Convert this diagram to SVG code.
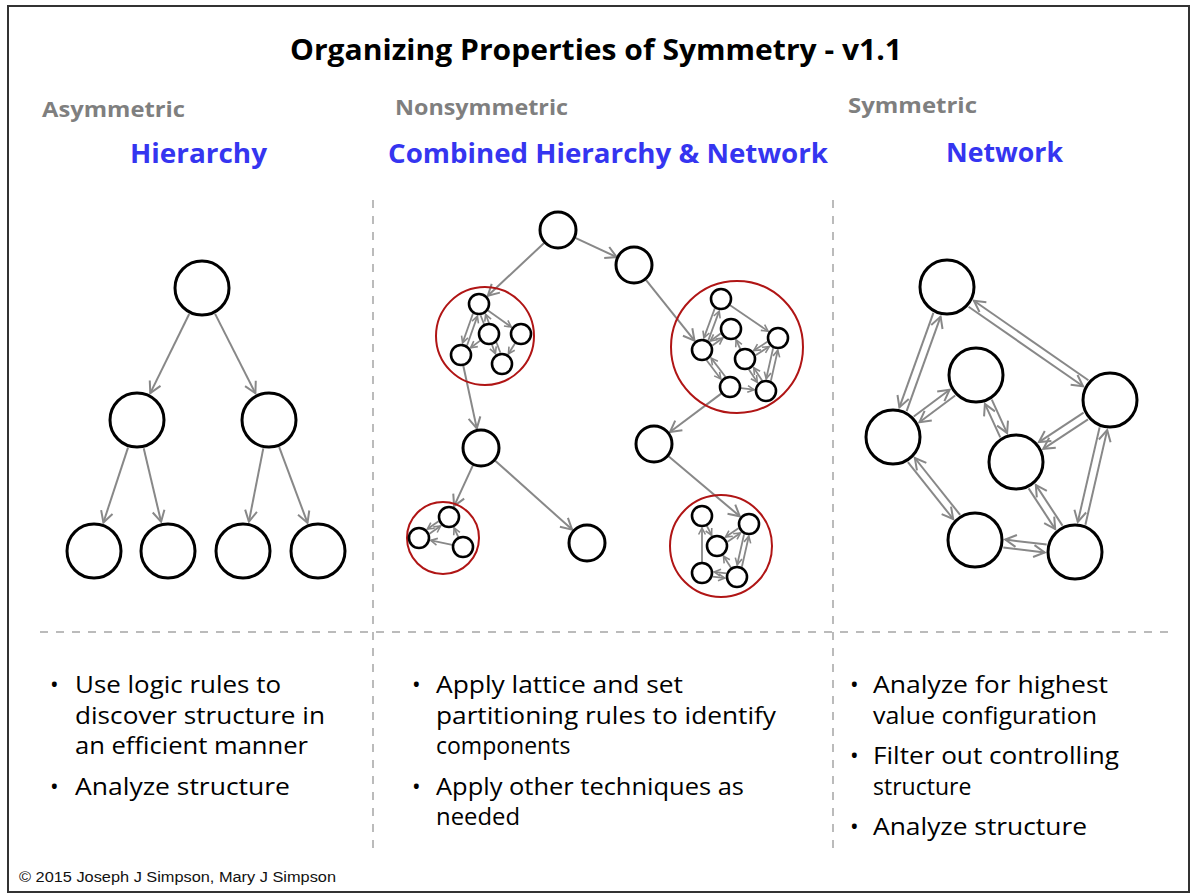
<svg xmlns="http://www.w3.org/2000/svg" width="1200" height="896" viewBox="0 0 1200 896">
<style>
.t{font-family:"Comic Sans MS","Open Sans",sans-serif;}
.title{font-size:28px;font-weight:bold;fill:#000;}
.sub{font-size:22px;font-weight:bold;fill:#7f7f7f;}
.head{font-size:26px;font-weight:bold;fill:#3535f0;}
.body{font-size:23px;fill:#000;}
.bn{fill:#fff;stroke:#000;stroke-width:3;}
.sn{fill:#fff;stroke:#000;stroke-width:2.6;}
.red{fill:none;stroke:#b01515;stroke-width:2;}
.e{stroke:#888;stroke-width:2;fill:none;marker-end:url(#ab);}
.s{stroke:#888;stroke-width:1.8;fill:none;marker-end:url(#as);}
.dash{stroke:#bbb;stroke-width:2;stroke-dasharray:8 8;fill:none;}
</style>
<defs>
<marker id="ab" viewBox="0 0 14 14" refX="13" refY="7" markerWidth="14" markerHeight="14" markerUnits="userSpaceOnUse" orient="auto" overflow="visible"><path d="M2,1 L13,7 L2,13" fill="none" stroke="#888" stroke-width="2"/></marker>
<marker id="as" viewBox="0 0 8 8" refX="7.5" refY="4" markerWidth="8" markerHeight="8" markerUnits="userSpaceOnUse" orient="auto" overflow="visible"><path d="M1,0.6 L7.5,4 L1,7.4" fill="none" stroke="#888" stroke-width="1.6"/></marker>
</defs>
<rect x="0" y="0" width="1200" height="896" fill="#fff"/>
<rect x="8" y="6" width="1181" height="886" fill="none" stroke="#333" stroke-width="2"/>
<g id="dividers">
<line class="dash" x1="373" y1="200" x2="373" y2="848"/>
<line class="dash" x1="833" y1="200" x2="833" y2="848"/>
<line class="dash" x1="40" y1="632" x2="1168" y2="632"/>
</g>
<g id="texts">
<text class="t title" x="596" y="60" text-anchor="middle" textLength="612" lengthAdjust="spacingAndGlyphs">Organizing Properties of Symmetry - v1.1</text>
<text class="t sub" x="42" y="117" textLength="143" lengthAdjust="spacingAndGlyphs">Asymmetric</text>
<text class="t sub" x="395" y="115" textLength="173" lengthAdjust="spacingAndGlyphs">Nonsymmetric</text>
<text class="t sub" x="848" y="113" textLength="129" lengthAdjust="spacingAndGlyphs">Symmetric</text>
<text class="t head" x="130" y="163" textLength="137" lengthAdjust="spacingAndGlyphs">Hierarchy</text>
<text class="t head" x="388" y="163" textLength="440" lengthAdjust="spacingAndGlyphs">Combined Hierarchy &amp; Network</text>
<text class="t head" x="946" y="162" textLength="117" lengthAdjust="spacingAndGlyphs">Network</text>
<g class="t body">
<text x="50" y="693">•</text>
<text x="75" y="693" textLength="206" lengthAdjust="spacingAndGlyphs">Use logic rules to</text>
<text x="75" y="724" textLength="250" lengthAdjust="spacingAndGlyphs">discover structure in</text>
<text x="75" y="754" textLength="233" lengthAdjust="spacingAndGlyphs">an efficient manner</text>
<text x="50" y="795">•</text>
<text x="75" y="795" textLength="215" lengthAdjust="spacingAndGlyphs">Analyze structure</text>
<text x="412" y="693">•</text>
<text x="436" y="693" textLength="247" lengthAdjust="spacingAndGlyphs">Apply lattice and set</text>
<text x="436" y="724" textLength="340" lengthAdjust="spacingAndGlyphs">partitioning rules to identify</text>
<text x="436" y="754">components</text>
<text x="412" y="795">•</text>
<text x="436" y="795" textLength="308" lengthAdjust="spacingAndGlyphs">Apply other techniques as</text>
<text x="436" y="825" textLength="84" lengthAdjust="spacingAndGlyphs">needed</text>
<text x="850" y="693">•</text>
<text x="873" y="693" textLength="235" lengthAdjust="spacingAndGlyphs">Analyze for highest</text>
<text x="873" y="724" textLength="224" lengthAdjust="spacingAndGlyphs">value configuration</text>
<text x="850" y="764">•</text>
<text x="873" y="764" textLength="246" lengthAdjust="spacingAndGlyphs">Filter out controlling</text>
<text x="873" y="795">structure</text>
<text x="850" y="835">•</text>
<text x="873" y="835" textLength="214" lengthAdjust="spacingAndGlyphs">Analyze structure</text>
</g>
<text x="19" y="882" font-family="Liberation Sans, Arial, sans-serif" font-size="15.5" fill="#111" textLength="317" lengthAdjust="spacingAndGlyphs">© 2015 Joseph J Simpson, Mary J Simpson</text>
</g>
<g id="connectors">
<!-- hierarchy -->
<line class="e" x1="189.2" y1="314" x2="150.3" y2="393.1"/>
<line class="e" x1="215.1" y1="313.9" x2="255.4" y2="393.2"/>
<line class="e" x1="128" y1="447.6" x2="103.4" y2="522.5"/>
<line class="e" x1="143.7" y1="448.2" x2="161.1" y2="521.8"/>
<line class="e" x1="263.3" y1="448.4" x2="248.9" y2="521.6"/>
<line class="e" x1="279.2" y1="447.1" x2="307.5" y2="522.9"/>
<!-- combined -->
<line class="e" x1="575.3" y1="237.9" x2="616.7" y2="257.1"/>
<line class="e" x1="544.1" y1="243" x2="487.8" y2="295.8"/>
<line class="e" x1="645.9" y1="279.8" x2="694.5" y2="340.6"/>
<line class="e" x1="463.3" y1="365.8" x2="476.8" y2="428.4"/>
<line class="e" x1="721.2" y1="393.6" x2="670" y2="432"/>
<line class="e" x1="473" y1="465.2" x2="454.1" y2="506.1"/>
<line class="e" x1="495.2" y1="460.7" x2="572.1" y2="529.6"/>
<line class="e" x1="668.5" y1="456.2" x2="739.8" y2="516.3"/>
<!-- left cluster -->
<line class="s" x1="473" y1="313.5" x2="462.6" y2="342.9"/>
<line class="s" x1="467" y1="345.5" x2="477.4" y2="316.1"/>
<line class="s" x1="488" y1="310.4" x2="511.2" y2="327"/>
<line class="s" x1="480.6" y1="315.2" x2="495.4" y2="353.7"/>
<line class="s" x1="500.4" y1="352.8" x2="485.6" y2="314.3"/>
<line class="s" x1="480.2" y1="340.6" x2="470.6" y2="347.8"/>
<line class="s" x1="515.1" y1="343.3" x2="508.4" y2="353.9"/>
<!-- right cluster -->
<line class="s" x1="714.8" y1="308.4" x2="703.9" y2="337.9"/>
<line class="s" x1="708.2" y1="340.6" x2="719.2" y2="311.1"/>
<line class="s" x1="730.1" y1="305.2" x2="768.1" y2="331.2"/>
<line class="s" x1="720.6" y1="333.4" x2="710.3" y2="340.9"/>
<line class="s" x1="712.4" y1="345.6" x2="722.8" y2="338.1"/>
<line class="s" x1="706.6" y1="360.3" x2="720.8" y2="379"/>
<line class="s" x1="725.4" y1="376.7" x2="711.2" y2="358.1"/>
<line class="s" x1="740.9" y1="388.2" x2="754.1" y2="389.7"/>
<line class="s" x1="755.6" y1="355.2" x2="769.2" y2="346.6"/>
<line class="s" x1="767.4" y1="341.8" x2="753.8" y2="350.5"/>
<line class="s" x1="740.3" y1="349" x2="736.1" y2="339.9"/>
<line class="s" x1="748.9" y1="369.6" x2="757.3" y2="382.3"/>
<line class="s" x1="762.1" y1="380.4" x2="753.7" y2="367.7"/>
<line class="s" x1="773.1" y1="348.2" x2="766.2" y2="378.7"/>
<line class="s" x1="770.9" y1="380.8" x2="777.8" y2="350.3"/>
<!-- bottom-left cluster -->
<line class="s" x1="438.6" y1="521.3" x2="427.4" y2="529.1"/>
<line class="s" x1="429.5" y1="533.7" x2="440.6" y2="526"/>
<line class="s" x1="452.2" y1="544.8" x2="430.8" y2="540.4"/>
<line class="s" x1="458.3" y1="537" x2="454.1" y2="527.9"/>
<!-- bottom-right cluster -->
<line class="s" x1="702" y1="562" x2="702" y2="528"/>
<line class="s" x1="706.9" y1="525.8" x2="711.6" y2="535.3"/>
<line class="s" x1="727.5" y1="541.8" x2="740.5" y2="532.9"/>
<line class="s" x1="738.5" y1="528.2" x2="725.5" y2="537.1"/>
<line class="s" x1="744.1" y1="534.2" x2="737.2" y2="564.7"/>
<line class="s" x1="741.9" y1="566.8" x2="748.8" y2="536.3"/>
<line class="s" x1="731" y1="567.8" x2="723.5" y2="556.1"/>
<line class="s" x1="712.7" y1="576.7" x2="724.8" y2="578.1"/>
<line class="s" x1="726.4" y1="573.3" x2="714.2" y2="571.9"/>
<!-- network -->
<line class="e" x1="933.4" y1="312.9" x2="899.4" y2="407.4"/>
<line class="e" x1="906.6" y1="411.1" x2="940.6" y2="316.6"/>
<line class="e" x1="968.6" y1="306.8" x2="1083.1" y2="386.2"/>
<line class="e" x1="1088.4" y1="380.2" x2="973.9" y2="300.8"/>
<line class="e" x1="955.2" y1="395.5" x2="919.4" y2="422.3"/>
<line class="e" x1="913.8" y1="416.5" x2="949.6" y2="389.7"/>
<line class="e" x1="991.8" y1="399.7" x2="1007.1" y2="433.1"/>
<line class="e" x1="1000.3" y1="437.3" x2="984.9" y2="403.9"/>
<line class="e" x1="1083.6" y1="412.6" x2="1038.9" y2="442.1"/>
<line class="e" x1="1088" y1="419.3" x2="1043.3" y2="448.8"/>
<line class="e" x1="1099.6" y1="427.4" x2="1077.8" y2="521.9"/>
<line class="e" x1="1085.4" y1="524.7" x2="1107.2" y2="430.1"/>
<line class="e" x1="907.9" y1="462.2" x2="953.2" y2="519"/>
<line class="e" x1="960.1" y1="514.8" x2="914.8" y2="458"/>
<line class="e" x1="1028.6" y1="488.4" x2="1055.2" y2="529.1"/>
<line class="e" x1="1062.5" y1="525.6" x2="1035.8" y2="484.9"/>
<line class="e" x1="1003.3" y1="547.4" x2="1044.7" y2="552.4"/>
<line class="e" x1="1046.7" y1="544.6" x2="1005.3" y2="539.6"/>
</g>
<g id="hierarchy-nodes">
<g id="h-root"><circle class="bn" cx="202" cy="288" r="27"/></g>
<g id="h-l2a"><circle class="bn" cx="137" cy="420" r="27"/></g>
<g id="h-l2b"><circle class="bn" cx="269" cy="420" r="27"/></g>
<g id="h-l3a"><circle class="bn" cx="94" cy="551" r="27"/></g>
<g id="h-l3b"><circle class="bn" cx="168" cy="551" r="27"/></g>
<g id="h-l3c"><circle class="bn" cx="243" cy="551" r="27"/></g>
<g id="h-l3d"><circle class="bn" cx="318" cy="551" r="27"/></g>
</g>
<g id="combined-nodes">
<g id="c-root"><circle class="bn" cx="558" cy="230" r="18"/></g>
<g id="c-n2"><circle class="bn" cx="634" cy="265" r="18"/></g>
<g id="c-m1"><circle class="bn" cx="481" cy="448" r="18"/></g>
<g id="c-m2"><circle class="bn" cx="654" cy="444" r="18"/></g>
<g id="c-p"><circle class="bn" cx="587" cy="543" r="18"/></g>
<g id="cluster-left">
<circle class="red" cx="485" cy="336" r="49"/>
<circle class="sn" cx="479" cy="304" r="10"/>
<circle class="sn" cx="489" cy="334" r="10"/>
<circle class="sn" cx="521" cy="334" r="10"/>
<circle class="sn" cx="461" cy="355" r="10"/>
<circle class="sn" cx="502" cy="364" r="10"/>
</g>
<g id="cluster-right">
<circle class="red" cx="737" cy="347" r="66"/>
<circle class="sn" cx="721" cy="299" r="10"/>
<circle class="sn" cx="731" cy="329" r="10"/>
<circle class="sn" cx="778" cy="338" r="10"/>
<circle class="sn" cx="702" cy="350" r="10"/>
<circle class="sn" cx="745" cy="359" r="10"/>
<circle class="sn" cx="730" cy="387" r="10"/>
<circle class="sn" cx="766" cy="391" r="10"/>
</g>
<g id="cluster-bottom-left">
<circle class="red" cx="443" cy="538" r="36"/>
<circle class="sn" cx="449" cy="517" r="10"/>
<circle class="sn" cx="419" cy="538" r="10"/>
<circle class="sn" cx="463" cy="547" r="10"/>
</g>
<g id="cluster-bottom-right">
<circle class="red" cx="721" cy="546" r="51"/>
<circle class="sn" cx="702" cy="516" r="10"/>
<circle class="sn" cx="749" cy="524" r="10"/>
<circle class="sn" cx="717" cy="546" r="10"/>
<circle class="sn" cx="702" cy="573" r="10"/>
<circle class="sn" cx="737" cy="577" r="10"/>
</g>
</g>
<g id="network-nodes">
<g id="n-a"><circle class="bn" cx="947" cy="287" r="27"/></g>
<g id="n-b"><circle class="bn" cx="976" cy="375" r="27"/></g>
<g id="n-c"><circle class="bn" cx="893" cy="437" r="27"/></g>
<g id="n-d"><circle class="bn" cx="1110" cy="400" r="27"/></g>
<g id="n-e"><circle class="bn" cx="1016" cy="462" r="27"/></g>
<g id="n-f"><circle class="bn" cx="975" cy="540" r="27"/></g>
<g id="n-g"><circle class="bn" cx="1075" cy="552" r="27"/></g>
</g>
</svg>
